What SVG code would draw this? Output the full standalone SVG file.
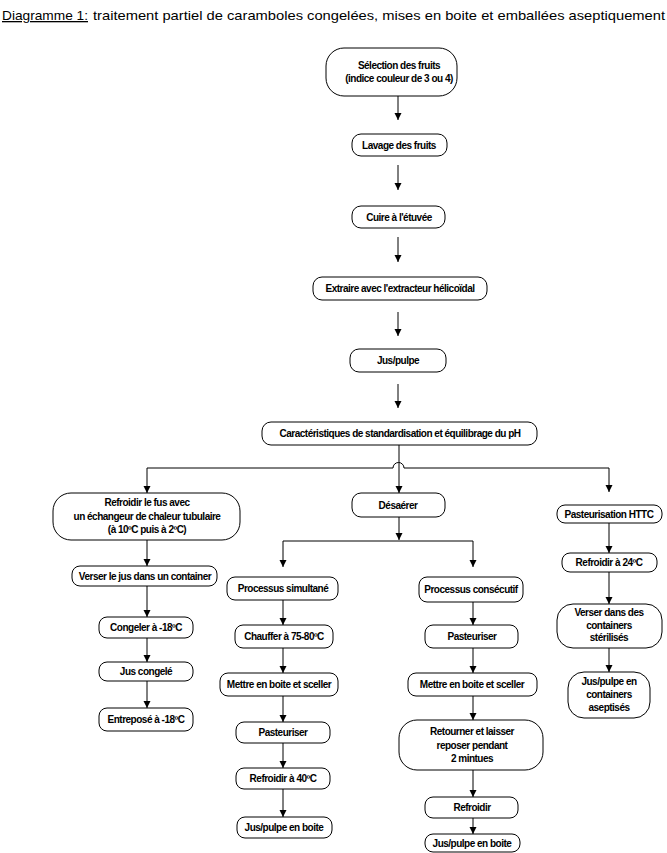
<svg xmlns="http://www.w3.org/2000/svg" width="667" height="853" viewBox="0 0 667 853">
<style>
.n{fill:#fff;stroke:#000;stroke-width:1}
.t{font-family:"Liberation Sans",Arial,sans-serif;font-size:10px;font-weight:bold;letter-spacing:-0.5px;text-anchor:middle;fill:#000}
.c{fill:none;stroke:#000;stroke-width:1}
.title{font-family:"Liberation Sans",Arial,sans-serif;font-size:13px;fill:#000}
</style>
<defs>
<marker id="a" markerUnits="userSpaceOnUse" markerWidth="8" markerHeight="9" refX="7" refY="3.5" orient="auto">
<path d="M0,0 L7,3.5 L0,7 z" fill="#000"/>
</marker>
</defs>
<g id="title">
<text class="title" x="2" y="20" textLength="86" lengthAdjust="spacingAndGlyphs" text-decoration="underline">Diagramme 1:</text>
<text class="title" x="93" y="20" textLength="572" lengthAdjust="spacingAndGlyphs">traitement partiel de caramboles congelées, mises en boite  et emballées aseptiquement</text>
</g>
<g id="connectors">
<path class="c" d="M398,96 V120" marker-end="url(#a)"/>
<path class="c" d="M398,165 V190" marker-end="url(#a)"/>
<path class="c" d="M398,237 V262" marker-end="url(#a)"/>
<path class="c" d="M398,312 V336" marker-end="url(#a)"/>
<path class="c" d="M398,384 V408" marker-end="url(#a)"/>
<path class="c" d="M399,445 V493" marker-end="url(#a)"/>
<path class="c" d="M147,468 H393 A5.5,5.5 0 0 1 404,468 H609"/>
<path class="c" d="M147,468 V493" marker-end="url(#a)"/>
<path class="c" d="M609,468 V492" marker-end="url(#a)"/>
<path class="c" d="M399,517 V540" marker-end="url(#a)"/>
<path class="c" d="M283,541 H473"/>
<path class="c" d="M283,541 V567" marker-end="url(#a)"/>
<path class="c" d="M473,541 V567" marker-end="url(#a)"/>
<path class="c" d="M147,540 V566" marker-end="url(#a)"/>
<path class="c" d="M147,586 V617" marker-end="url(#a)"/>
<path class="c" d="M147,638 V662" marker-end="url(#a)"/>
<path class="c" d="M147,681 V708" marker-end="url(#a)"/>
<path class="c" d="M283,600 V625" marker-end="url(#a)"/>
<path class="c" d="M283,648 V673" marker-end="url(#a)"/>
<path class="c" d="M283,696 V722" marker-end="url(#a)"/>
<path class="c" d="M283,743 V768" marker-end="url(#a)"/>
<path class="c" d="M283,789 V817" marker-end="url(#a)"/>
<path class="c" d="M473,602 V625" marker-end="url(#a)"/>
<path class="c" d="M473,648 V673" marker-end="url(#a)"/>
<path class="c" d="M473,696 V720" marker-end="url(#a)"/>
<path class="c" d="M473,770 V797" marker-end="url(#a)"/>
<path class="c" d="M473,818 V834" marker-end="url(#a)"/>
<path class="c" d="M609,522 V553" marker-end="url(#a)"/>
<path class="c" d="M609,572 V604" marker-end="url(#a)"/>
<path class="c" d="M609,648 V672" marker-end="url(#a)"/>
</g>
<g id="n1"><rect class="n" x="326" y="48" width="131" height="48" rx="18"/><text class="t" x="399" y="69">Sélection des fruits</text><text class="t" x="399" y="82">(indice couleur de 3 ou 4)</text></g>
<g id="n2"><rect class="n" x="352" y="134" width="95" height="22" rx="9"/><text class="t" x="399" y="148.5">Lavage des fruits</text></g>
<g id="n3"><rect class="n" x="352" y="206" width="93" height="22" rx="9"/><text class="t" x="399" y="220.5">Cuire à l'étuvée</text></g>
<g id="n4"><rect class="n" x="313" y="277" width="174" height="23" rx="9"/><text class="t" x="400" y="292">Extraire avec l'extracteur hélicoïdal</text></g>
<g id="n5"><rect class="n" x="350" y="349" width="96" height="23" rx="9"/><text class="t" x="398" y="364">Jus/pulpe</text></g>
<g id="n6"><rect class="n" x="262" y="422" width="275" height="23" rx="9"/><text class="t" x="400" y="437">Caractéristiques de standardisation et équilibrage du pH</text></g>
<g id="n7"><rect class="n" x="352" y="493" width="93" height="24" rx="9"/><text class="t" x="398" y="508.5">Désaérer</text></g>
<g id="n8"><rect class="n" x="53" y="493" width="187" height="47" rx="18"/><text class="t" x="147" y="505.5">Refroidir le fus avec</text><text class="t" x="147" y="519.5">un échangeur de chaleur tubulaire</text><text class="t" x="147" y="533">(à 10ºC puis à 2ºC)</text></g>
<g id="n9"><rect class="n" x="72" y="566" width="145" height="20" rx="8"/><text class="t" x="145" y="579.5">Verser le jus dans un container</text></g>
<g id="n10"><rect class="n" x="99" y="617" width="94" height="21" rx="8"/><text class="t" x="146" y="631">Congeler à -18ºC</text></g>
<g id="n11"><rect class="n" x="99" y="662" width="94" height="19" rx="8"/><text class="t" x="146" y="675">Jus congelé</text></g>
<g id="n12"><rect class="n" x="99" y="708" width="94" height="23" rx="8"/><text class="t" x="146" y="723">Entreposé à -18ºC</text></g>
<g id="n13"><rect class="n" x="227" y="577" width="111" height="23" rx="8"/><text class="t" x="283" y="592">Processus simultané</text></g>
<g id="n14"><rect class="n" x="235" y="625" width="98" height="23" rx="8"/><text class="t" x="284" y="640">Chauffer à 75-80ºC</text></g>
<g id="n15"><rect class="n" x="220" y="673" width="118" height="23" rx="8"/><text class="t" x="279" y="688">Mettre en boite et sceller</text></g>
<g id="n16"><rect class="n" x="236" y="722" width="94" height="21" rx="8"/><text class="t" x="283" y="736">Pasteuriser</text></g>
<g id="n17"><rect class="n" x="236" y="768" width="94" height="21" rx="8"/><text class="t" x="283" y="782">Refroidir à 40ºC</text></g>
<g id="n18"><rect class="n" x="237" y="817" width="95" height="21" rx="8"/><text class="t" x="284" y="831">Jus/pulpe en boite</text></g>
<g id="n19"><rect class="n" x="419" y="577" width="104" height="25" rx="8"/><text class="t" x="471" y="593">Processus consécutif</text></g>
<g id="n20"><rect class="n" x="425" y="625" width="93" height="23" rx="8"/><text class="t" x="472" y="640">Pasteuriser</text></g>
<g id="n21"><rect class="n" x="408" y="673" width="129" height="23" rx="8"/><text class="t" x="472" y="688">Mettre en boite et sceller</text></g>
<g id="n22"><rect class="n" x="399" y="720" width="144" height="50" rx="18"/><text class="t" x="472" y="735">Retourner et laisser</text><text class="t" x="472" y="749">reposer pendant</text><text class="t" x="472" y="762">2 mintues</text></g>
<g id="n23"><rect class="n" x="425" y="797" width="93" height="21" rx="8"/><text class="t" x="472" y="811">Refroidir</text></g>
<g id="n24"><rect class="n" x="425" y="834" width="95" height="18" rx="8"/><text class="t" x="472" y="846.5">Jus/pulpe en boite</text></g>
<g id="n25"><rect class="n" x="557" y="505" width="105" height="18" rx="8"/><text class="t" x="609" y="517.5">Pasteurisation HTTC</text></g>
<g id="n26"><rect class="n" x="562" y="553" width="95" height="19" rx="8"/><text class="t" x="609" y="566">Refroidir à 24ºC</text></g>
<g id="n27"><rect class="n" x="557" y="604" width="105" height="44" rx="16"/><text class="t" x="609" y="616">Verser dans des</text><text class="t" x="609" y="629">containers</text><text class="t" x="609" y="641">stérilisés</text></g>
<g id="n28"><rect class="n" x="568" y="672" width="82" height="46" rx="16"/><text class="t" x="609" y="685">Jus/pulpe en</text><text class="t" x="609" y="698">containers</text><text class="t" x="609" y="711">aseptisés</text></g>
</svg>
